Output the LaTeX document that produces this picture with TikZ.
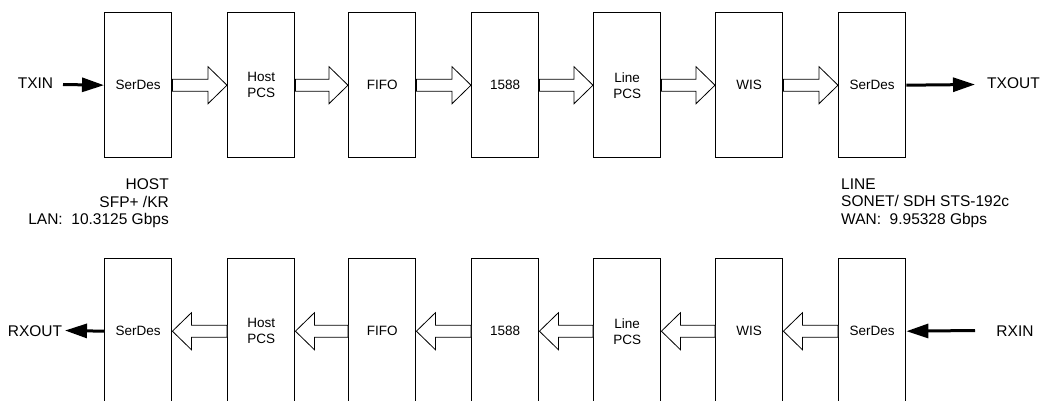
\documentclass[tikz,border=0pt]{standalone}
\usepackage{fontspec}
\setmainfont{Liberation Sans}
\usetikzlibrary{calc,arrows.meta}
\newcommand{\hollowR}[2]{%
  \draw[hollow] ($(#1.east)+(0,-6)$) -- ($(#2.west)+(-19,-6)$) -- ($(#2.west)+(-19,-18.5)$)
    -- (#2.west) -- ($(#2.west)+(-19,18.5)$) -- ($(#2.west)+(-19,6)$) -- ($(#1.east)+(0,6)$) -- cycle;}
\newcommand{\hollowL}[2]{%
  \draw[hollow] ($(#1.west)+(0,-6)$) -- ($(#2.east)+(19,-6)$) -- ($(#2.east)+(19,-18.5)$)
    -- (#2.east) -- ($(#2.east)+(19,18.5)$) -- ($(#2.east)+(19,6)$) -- ($(#1.west)+(0,6)$) -- cycle;}
\begin{document}
\begin{tikzpicture}[x=1pt,y=-1pt,
  blk/.style={draw,line width=1.4pt,minimum width=67pt,minimum height=145pt,inner sep=0pt,
    anchor=north west,align=center,font=\fontsize{13.5}{16}\selectfont},
  hollow/.style={draw,fill=white,line width=0.8pt,line join=miter},
  barrow/.style={line width=3pt,-{Triangle[length=22pt,width=14pt]}},
  ext/.style={inner sep=0pt,font=\fontsize{15.5}{17.5}\selectfont},
  lbl/.style={inner sep=0pt,font=\fontsize{15.5}{17.5}\selectfont}]
\clip (0,0) rectangle (1042,401);
\fill[white] (0,0) rectangle (1042,401);
% top row
\node[blk] (t1) at (104,12) {SerDes};
\node[blk] (t2) at (227,12) {Host\\PCS};
\node[blk] (t3) at (348,12) {FIFO};
\node[blk] (t4) at (471,12) {1588};
\node[blk] (t5) at (593,12) {Line\\PCS};
\node[blk] (t6) at (715,12) {WIS};
\node[blk] (t7) at (838,12) {SerDes};
% bottom row
\node[blk] (b1) at (104,258) {SerDes};
\node[blk] (b2) at (227,258) {Host\\PCS};
\node[blk] (b3) at (348,258) {FIFO};
\node[blk] (b4) at (471,258) {1588};
\node[blk] (b5) at (593,258) {Line\\PCS};
\node[blk] (b6) at (715,258) {WIS};
\node[blk] (b7) at (838,258) {SerDes};
% hollow arrows
\hollowR{t1}{t2}\hollowR{t2}{t3}\hollowR{t3}{t4}\hollowR{t4}{t5}\hollowR{t5}{t6}\hollowR{t6}{t7}
\hollowL{b2}{b1}\hollowL{b3}{b2}\hollowL{b4}{b3}\hollowL{b5}{b4}\hollowL{b6}{b5}\hollowL{b7}{b6}
% external signals
\node[ext] (txin) at (35.5,83) {TXIN};
\coordinate (txinE) at (63,84.5);
\draw[barrow] (txinE) -- (t1.west);
\node[ext] (txout) at (1013.5,83) {TXOUT};
\coordinate (txoutE) at (975,84.5);
\draw[barrow] (t7.east) -- (txoutE);
\node[ext] (rxin) at (1015,331) {RXIN};
\coordinate (rxinE) at (975,330.5);
\draw[barrow] (rxinE) -- (b7.east);
\node[ext] (rxout) at (35,331) {RXOUT};
\coordinate (rxoutE) at (65,330.5);
\draw[barrow] (b1.west) -- (rxoutE);
% labels
\node[lbl,align=right,anchor=north east] (hostlbl) at (169,178.5) {HOST\\SFP+ /KR\\LAN:\ \ 10.3125 Gbps};
\node[lbl,align=left,anchor=north west] (linelbl) at (841,178.5) {LINE\\SONET/ SDH STS-192c\\WAN:\ \ 9.95328 Gbps};
\end{tikzpicture}
\end{document}
